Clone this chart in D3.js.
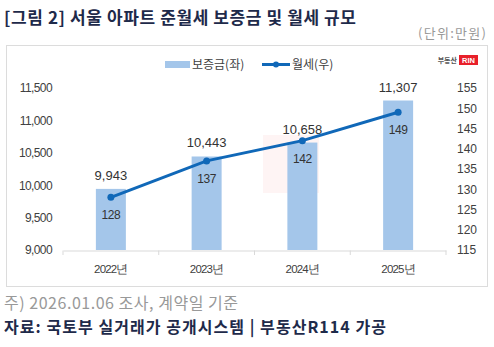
<!DOCTYPE html>
<html>
<head>
<meta charset="utf-8">
<script src="https://cdn.jsdelivr.net/npm/d3@7"></script>
<style>
  body { margin: 0; background: #fff; }
  svg text { font-family: "Noto Sans CJK KR", "Noto Sans", sans-serif; }
  .num { font-family: "Liberation Sans", Arial, sans-serif; }
</style>
</head>
<body>
<div id="chart"></div>
<script>
// chart data
const years = ["2022년", "2023년", "2024년", "2025년"];
const deposit = [9943, 10443, 10658, 11307];   // 보증금 (left axis)
const rent = [128, 137, 142, 149];              // 월세 (right axis)
const leftTicks = [9000, 9500, 10000, 10500, 11000, 11500];
const rightTicks = [115, 120, 125, 130, 135, 140, 145, 150, 155];

const W = 494, H = 347;
const svg = d3.select("#chart").append("svg")
    .attr("width", W).attr("height", H);

// title + unit
svg.append("text")
    .attr("x", 4).attr("y", 24)
    .attr("font-size", 17).attr("font-weight", "bold")
    .attr("fill", "#1e2a4a")
    .attr("textLength", 352).attr("lengthAdjust", "spacing")
    .text("[그림 2] 서울 아파트 준월세 보증금 및 월세 규모");

svg.append("text")
    .attr("x", 418).attr("y", 38)
    .attr("font-size", 13).attr("fill", "#999")
    .attr("textLength", 68).attr("lengthAdjust", "spacing")
    .text("(단위:만원)");

// chart frame
svg.append("rect")
    .attr("x", 6.5).attr("y", 45.5)
    .attr("width", 481).attr("height", 241)
    .attr("fill", "#fff").attr("stroke", "#dcdcdc");

// faint watermark
const wm = svg.append("g").attr("opacity", 0.05);
wm.append("rect").attr("x", 263).attr("y", 135).attr("width", 56).attr("height", 58).attr("fill", "#e8202a");

// scales
const x = d3.scaleBand().domain(years).range([63, 446]).paddingInner(0).paddingOuter(0);
const yL = d3.scaleLinear().domain([9000, 11500]).range([250, 88]);
const yR = d3.scaleLinear().domain([115, 155]).range([250, 88]);
const barW = 30;

// axes
const xAxis = svg.append("g")
    .attr("transform", "translate(0,250.5)")
    .call(d3.axisBottom(x).tickSize(0).tickPadding(14));
xAxis.select(".domain").attr("stroke", "#d9d9d9");
xAxis.selectAll("text").attr("font-size", 11.5).attr("fill", "#404040")
    .attr("letter-spacing", "-0.8px").attr("class", "num");
// tick marks at band edges
svg.append("g").selectAll("line")
    .data(years.concat(["end"]))
    .join("line")
    .attr("x1", (d, i) => i < years.length ? x(d) : x.range()[1])
    .attr("x2", (d, i) => i < years.length ? x(d) : x.range()[1])
    .attr("y1", 250.5).attr("y2", 255)
    .attr("stroke", "#d9d9d9");

const lAxis = svg.append("g")
    .attr("transform", "translate(52,0)")
    .call(d3.axisLeft(yL).tickValues(leftTicks).tickSize(0).tickPadding(0).tickFormat(d3.format(",")));
lAxis.select(".domain").remove();
lAxis.selectAll("text").attr("class", "num").attr("font-size", 12).attr("fill", "#404040")
    .attr("letter-spacing", "-0.6px");

const rAxis = svg.append("g")
    .attr("transform", "translate(457,0)")
    .call(d3.axisRight(yR).tickValues(rightTicks).tickSize(0).tickPadding(0));
rAxis.select(".domain").remove();
rAxis.selectAll("text").attr("class", "num").attr("font-size", 12).attr("fill", "#404040");

// bars
svg.append("g").selectAll("rect")
    .data(deposit)
    .join("rect")
    .attr("x", (d, i) => x(years[i]) + x.bandwidth() / 2 - barW / 2)
    .attr("y", d => yL(d))
    .attr("width", barW)
    .attr("height", d => yL(9000) - yL(d))
    .attr("fill", "#a4c6ea");

svg.append("g").selectAll("text")
    .data(deposit)
    .join("text")
    .attr("class", "num")
    .attr("x", (d, i) => x(years[i]) + x.bandwidth() / 2)
    .attr("y", d => yL(d) - 9)
    .attr("text-anchor", "middle")
    .attr("font-size", 13).attr("fill", "#333")
    .text(d => d3.format(",")(d));

// line
const cx = (d, i) => x(years[i]) + x.bandwidth() / 2;
svg.append("path")
    .datum(rent)
    .attr("d", d3.line().x(cx).y(d => yR(d)))
    .attr("fill", "none").attr("stroke", "#1068b8").attr("stroke-width", 3);

svg.append("g").selectAll("circle")
    .data(rent)
    .join("circle")
    .attr("cx", cx).attr("cy", d => yR(d)).attr("r", 3.5)
    .attr("fill", "#1068b8");

svg.append("g").selectAll("text")
    .data(rent)
    .join("text")
    .attr("class", "num")
    .attr("x", cx)
    .attr("y", d => yR(d) + 22)
    .attr("text-anchor", "middle")
    .attr("font-size", 12).attr("fill", "#333")
    .attr("letter-spacing", "-0.5px")
    .text(d => d);

// legend
const lg = svg.append("g");
lg.append("rect").attr("x", 165).attr("y", 61).attr("width", 25).attr("height", 7).attr("fill", "#a4c6ea");
lg.append("text").attr("x", 192).attr("y", 69).attr("font-size", 12).attr("fill", "#404040").text("보증금(좌)");
lg.append("line").attr("x1", 262).attr("x2", 290).attr("y1", 64.5).attr("y2", 64.5)
    .attr("stroke", "#1068b8").attr("stroke-width", 3);
lg.append("circle").attr("cx", 276).attr("cy", 64.5).attr("r", 3).attr("fill", "#1068b8");
lg.append("text").attr("x", 292).attr("y", 69).attr("font-size", 12).attr("fill", "#404040").text("월세(우)");

// logo
svg.append("text").attr("x", 457).attr("y", 63).attr("text-anchor", "end")
    .attr("font-size", 7).attr("fill", "#555").attr("font-weight", "bold").text("부동산");
svg.append("rect").attr("x", 459).attr("y", 55).attr("width", 19).attr("height", 10).attr("fill", "#e8202a");
svg.append("text").attr("class", "num").attr("x", 468.5).attr("y", 63).attr("text-anchor", "middle")
    .attr("font-size", 7.5).attr("font-weight", "bold").attr("fill", "#fff").text("RIN");

// footnotes
svg.append("text").attr("x", 4).attr("y", 309)
    .attr("font-size", 16).attr("fill", "#999")
    .attr("textLength", 234).attr("lengthAdjust", "spacing")
    .text("주) 2026.01.06 조사, 계약일 기준");
svg.append("text").attr("x", 4).attr("y", 333)
    .attr("font-size", 16).attr("font-weight", "bold").attr("fill", "#1e2a4a")
    .attr("textLength", 382).attr("lengthAdjust", "spacing")
    .text("자료: 국토부 실거래가 공개시스템 | 부동산R114 가공");
</script>
</body>
</html>
